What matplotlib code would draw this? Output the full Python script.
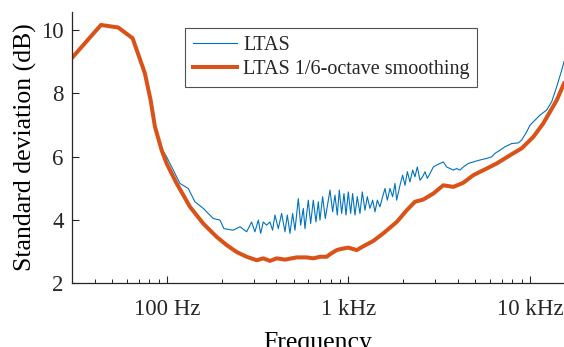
import matplotlib
matplotlib.use("Agg")
import matplotlib.pyplot as plt
from matplotlib.ticker import FixedLocator, LogLocator, NullFormatter

# values (Hz, dB)
ltas_freq = [30, 43.3, 53.9, 64.7, 75.6, 81.3, 86.5, 93.5, 99.6, 103.9, 117.9,
             131.0, 142.6, 158.5, 179.9, 195.9, 206.1, 231.8, 252.5, 274.9,
             292.7, 305.3, 318.7, 328.2, 339.5, 354.0, 369.3, 382.0, 393.6,
             410.6, 428.4, 446.8, 460.3, 476.1, 492.5, 507.3, 529.3, 545.2,
             563.9, 575.9, 600.8, 618.9, 640.1, 662.1, 682.1, 696.6, 720.6,
             745.4, 790.9, 818.0, 842.5, 868.0, 890.3, 917.1, 944.7, 969.3,
             997.9, 1028, 1054, 1086, 1118, 1157, 1192, 1233, 1270, 1313,
             1359, 1400, 1442, 1491, 1543, 1589, 1637, 1693, 1751, 1804, 1843,
             1922, 1988, 2048, 2110, 2182, 2258, 2325, 2394, 2477, 2563, 2640,
             2718, 2812, 2934, 3060, 3193, 3331, 3474, 3625, 3781, 3944, 4115,
             4292, 4574, 4873, 5303, 5771, 6150, 6414, 6834, 7283, 7925, 8626,
             8995, 9587, 10000, 10655, 11354, 12355, 13164, 14034, 14950, 15392]
ltas_std = [9.12, 10.16, 10.08, 9.74, 8.66, 7.82, 6.98, 6.25, 5.99, 5.78, 5.15,
            4.99, 4.57, 4.36, 4.04, 3.99, 3.72, 3.67, 3.78, 3.62,
            3.93, 3.62, 3.99, 3.57, 3.93, 3.83, 3.93, 3.67, 4.15,
            3.72, 4.20, 3.62, 4.15, 3.57, 4.20, 3.67, 4.67, 3.83,
            4.36, 3.72, 4.62, 3.88, 4.62, 3.93, 4.57, 3.99, 4.73,
            4.04, 4.94, 4.25, 4.78, 4.15, 4.94, 4.20, 4.83, 4.15,
            4.88, 4.20, 4.83, 4.15, 4.73, 4.20, 4.88, 4.30, 4.73, 4.36,
            4.62, 4.25, 4.62, 4.41, 4.73, 4.99, 4.62, 4.99, 4.73, 5.15, 4.62,
            5.09, 5.41, 5.09, 5.52, 5.20, 5.57, 5.36, 5.67, 5.25, 5.36, 5.52,
            5.31, 5.46, 5.67, 5.73, 5.78, 5.83, 5.67, 5.62, 5.57, 5.62, 5.57,
            5.67, 5.78, 5.83, 5.89, 5.94, 5.99, 6.10, 6.20, 6.31, 6.41, 6.43,
            6.52, 6.78, 6.99, 7.15, 7.31, 7.47, 7.73, 8.21, 8.73, 9.00]

smooth_freq = [30, 43.3, 53.9, 64.7, 75.6, 81.3, 85.9, 93.5, 99.6, 113.1, 133.9,
               158.5, 187.8, 213.3, 242.1, 274.9, 312.1, 339.4, 369.3, 402.2,
               446.8, 518.3, 588.5, 640.1, 696.6, 758.6, 790.9, 861, 898, 997,
               1110, 1206, 1370, 1555, 1844, 2093, 2325, 2583, 2933, 3330, 3780,
               4290, 4871, 5773, 6554, 7760, 9000, 10428, 11837, 14034, 15392]
smooth_std = [9.12, 10.16, 10.08, 9.74, 8.63, 7.78, 6.94, 6.20, 5.78, 5.15, 4.41,
              3.88, 3.46, 3.20, 2.98, 2.83, 2.72, 2.78, 2.70, 2.78,
              2.74, 2.81, 2.81, 2.78, 2.83, 2.83, 2.91, 3.04, 3.07, 3.12,
              3.04, 3.16, 3.33, 3.57, 3.93, 4.30, 4.57, 4.64, 4.83, 5.09, 5.04,
              5.17, 5.41, 5.62, 5.78, 6.04, 6.26, 6.62, 7.05, 7.78, 8.31]

x_ticks = [100, 1000, 10000]
x_tick_labels = ["100 Hz", "1 kHz", "10 kHz"]
y_ticks = [2, 4, 6, 8, 10]

TXT = "#262626"
plt.rcParams["font.family"] = ["Liberation Serif", "DejaVu Serif"]
plt.rcParams["text.color"] = TXT

fig = plt.figure(figsize=(5.64, 3.47), dpi=100)
ax = fig.add_axes([0.1277, 0.1844, 0.8723, 0.781])

ax.semilogx(ltas_freq, ltas_std, color="#0072BD", lw=0.8, label="LTAS")
ax.semilogx(smooth_freq, smooth_std, color="#D95319", lw=2.9,
            label="LTAS 1/6-octave smoothing")

ax.set_xlim(30, 15392)
ax.set_ylim(2, 10.57)
ax.xaxis.set_major_locator(FixedLocator(x_ticks))
ax.set_xticklabels(x_tick_labels)
ax.xaxis.set_minor_locator(LogLocator(base=10, subs=range(2, 10)))
ax.xaxis.set_minor_formatter(NullFormatter())
ax.set_yticks(y_ticks)

for side in ("top", "right"):
    ax.spines[side].set_visible(False)
for side in ("left", "bottom"):
    ax.spines[side].set_color(TXT)
    ax.spines[side].set_linewidth(0.9)

ax.tick_params(which="major", direction="in", length=5, width=0.8,
               colors=TXT, labelsize=16.5)
ax.tick_params(axis="x", which="major", pad=11.5)
ax.tick_params(axis="y", which="major", pad=6)
ax.tick_params(which="minor", direction="in", length=3, width=0.7, colors=TXT)

# the reference crops the axis label at the bottom edge, kept the same here
ax.set_xlabel("Frequency", fontsize=18.5, labelpad=9)
ax.set_ylabel("Standard deviation (dB)", fontsize=18.5, labelpad=3)

leg = ax.legend(loc="upper left", bbox_to_anchor=(0.2297, 0.941),
                borderaxespad=0, fontsize=14.5, frameon=True, fancybox=False,
                handlelength=2.2, handletextpad=0.3, borderpad=0.38,
                labelspacing=0.28)
leg.get_frame().set_edgecolor(TXT)
leg.get_frame().set_linewidth(0.8)

fig.savefig("out.png", dpi=100)
